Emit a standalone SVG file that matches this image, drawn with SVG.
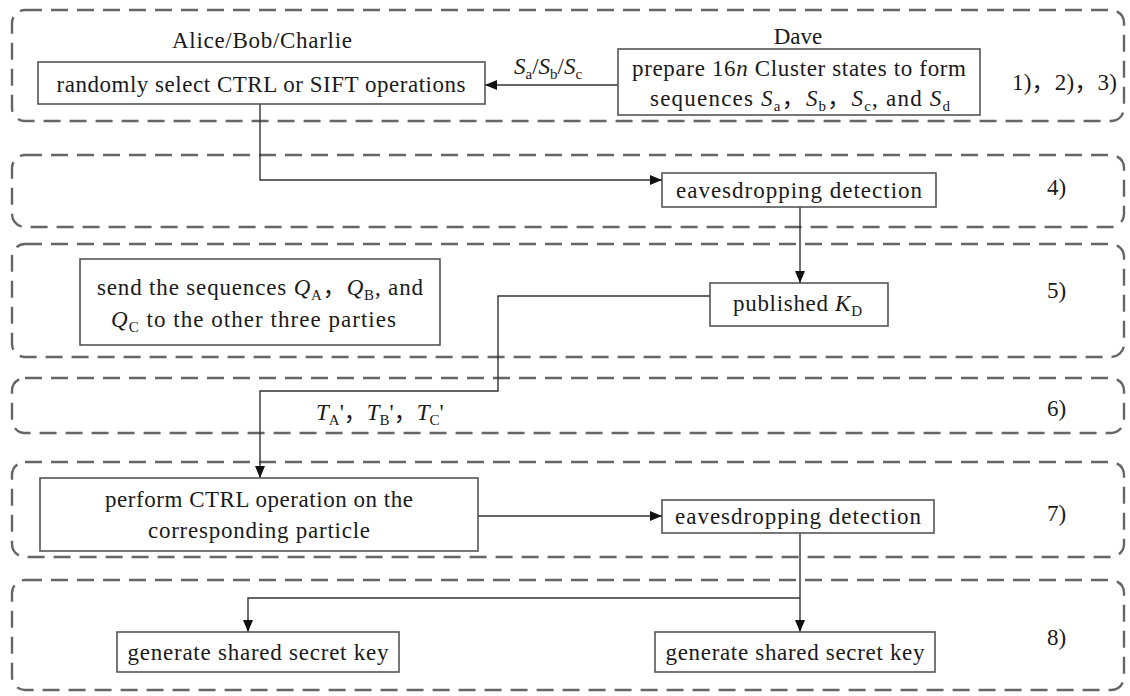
<svg xmlns="http://www.w3.org/2000/svg" width="1130" height="696" viewBox="0 0 1130 696">
<defs>
<style>
.panel{fill:none;stroke:#666;stroke-width:2.4;stroke-dasharray:17 9}
.box{fill:#fff;stroke:#555;stroke-width:1.6}
.t{font-family:"Liberation Serif","Noto Sans CJK SC",serif;font-size:23px;fill:#1a1a1a}
.c{text-anchor:middle}
.i{font-style:italic}
.s{font-size:15px}
.con{fill:none;stroke:#333;stroke-width:1.4}
</style>
<marker id="ah" markerWidth="12" markerHeight="10" refX="12" refY="5" orient="auto" markerUnits="userSpaceOnUse">
<path d="M0,0 L12,5 L0,10 z" fill="#111"/>
</marker>
</defs>
<rect width="1130" height="696" fill="#fff"/>

<g id="panels">
<rect class="panel" x="12" y="10" width="1112" height="111" rx="13"/>
<rect class="panel" x="12" y="155" width="1112" height="72" rx="13"/>
<rect class="panel" x="12" y="244" width="1112" height="113" rx="13"/>
<rect class="panel" x="12" y="378" width="1112" height="55" rx="13"/>
<rect class="panel" x="12" y="462" width="1112" height="95" rx="13"/>
<rect class="panel" x="12" y="580" width="1112" height="110" rx="13"/>
</g>

<g id="step-labels">
<text class="t" x="1012" y="90" textLength="105">1)，2)，3)</text>
<text class="t" x="1047" y="195">4)</text>
<text class="t" x="1047" y="298">5)</text>
<text class="t" x="1047" y="416">6)</text>
<text class="t" x="1047" y="521">7)</text>
<text class="t" x="1047" y="645">8)</text>
</g>

<g id="connectors">
<path class="con" d="M618,85 H485" marker-end="url(#ah)"/>
<path class="con" d="M260,104 V180 H662" marker-end="url(#ah)"/>
<path class="con" d="M800,207 V283" marker-end="url(#ah)"/>
<path class="con" d="M710,296 H498 V391 H260 V478" marker-end="url(#ah)"/>
<path class="con" d="M478,516 H662" marker-end="url(#ah)"/>
<path class="con" d="M800,533 V632" marker-end="url(#ah)"/>
<path class="con" d="M800,598 H248 V632" marker-end="url(#ah)"/>
<text class="t" x="514" y="74"><tspan class="i">S</tspan><tspan class="s" dy="5">a</tspan><tspan dy="-5">/</tspan><tspan class="i">S</tspan><tspan class="s" dy="5">b</tspan><tspan dy="-5">/</tspan><tspan class="i">S</tspan><tspan class="s" dy="5">c</tspan></text>
<text class="t" x="316" y="420"><tspan class="i">T</tspan><tspan class="s" dy="5">A</tspan><tspan dy="-5">'，</tspan><tspan class="i">T</tspan><tspan class="s" dy="5">B</tspan><tspan dy="-5">'，</tspan><tspan class="i">T</tspan><tspan class="s" dy="5">C</tspan><tspan dy="-5">'</tspan></text>
</g>

<g id="alice-label">
<text class="t c" x="262" y="48" textLength="180">Alice/Bob/Charlie</text>
</g>
<g id="dave-label">
<text class="t c" x="798" y="44">Dave</text>
</g>

<g id="node-select">
<rect class="box" x="38" y="62" width="447" height="42"/>
<text class="t c" x="261" y="92" textLength="409">randomly select CTRL or SIFT operations</text>
</g>

<g id="node-prepare">
<rect class="box" x="618" y="49" width="362" height="66"/>
<text class="t c" x="799" y="76" textLength="334">prepare 16<tspan class="i">n</tspan> Cluster states to form</text>
<text class="t" x="650" y="106" textLength="300">sequences <tspan class="i">S</tspan><tspan class="s" dy="5">a</tspan><tspan dy="-5">，</tspan><tspan class="i">S</tspan><tspan class="s" dy="5">b</tspan><tspan dy="-5">，</tspan><tspan class="i">S</tspan><tspan class="s" dy="5">c</tspan><tspan dy="-5">, and </tspan><tspan class="i">S</tspan><tspan class="s" dy="5">d</tspan></text>
</g>

<g id="node-eaves1">
<rect class="box" x="662" y="173" width="274" height="34"/>
<text class="t c" x="799" y="198" textLength="246">eavesdropping detection</text>
</g>

<g id="node-send">
<rect class="box" x="80" y="259" width="360" height="86"/>
<text class="t" x="97" y="295" textLength="326">send the sequences <tspan class="i">Q</tspan><tspan class="s" dy="5">A</tspan><tspan dy="-5">，</tspan><tspan class="i">Q</tspan><tspan class="s" dy="5">B</tspan><tspan dy="-5">, and</tspan></text>
<text class="t" x="111" y="327" textLength="285"><tspan class="i">Q</tspan><tspan class="s" dy="5">C</tspan><tspan dy="-5"> to the other three parties</tspan></text>
</g>

<g id="node-published">
<rect class="box" x="710" y="283" width="178" height="43"/>
<text class="t" x="733" y="311" textLength="129">published <tspan class="i">K</tspan><tspan class="s" dy="5">D</tspan></text>
</g>

<g id="node-perform">
<rect class="box" x="40" y="478" width="438" height="73"/>
<text class="t c" x="259" y="507" textLength="308">perform CTRL operation on the</text>
<text class="t c" x="259" y="538" textLength="222">corresponding particle</text>
</g>

<g id="node-eaves2">
<rect class="box" x="662" y="500" width="272" height="33"/>
<text class="t c" x="798" y="524" textLength="246">eavesdropping detection</text>
</g>

<g id="node-key-left">
<rect class="box" x="117" y="632" width="282" height="40"/>
<text class="t c" x="258" y="660" textLength="261">generate shared secret key</text>
</g>

<g id="node-key-right">
<rect class="box" x="655" y="632" width="280" height="40"/>
<text class="t c" x="795" y="660" textLength="259">generate shared secret key</text>
</g>
</svg>
